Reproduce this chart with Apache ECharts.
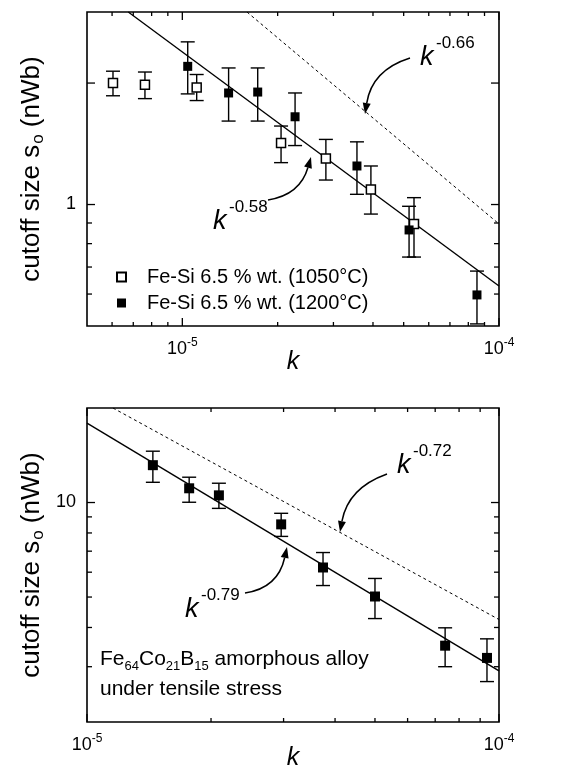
<!DOCTYPE html>
<html>
<head>
<meta charset="utf-8">
<script src="https://cdn.jsdelivr.net/npm/echarts@6/dist/echarts.min.js"></script>
<style>
  html, body { margin: 0; padding: 0; background: #fff; }
  #chart { width: 569px; height: 770px; }
</style>
</head>
<body>
<div id="chart"></div>
<script>
// top panel: Fe-Si 6.5 % wt., two annealing temperatures
const kOpen = [6.04e-6, 7.62e-6, 1.11e-5, 2.05e-5, 2.84e-5, 3.94e-5, 5.39e-5]
const sOpen = [2.00, 1.98, 1.95, 1.42, 1.30, 1.09, 0.895]
const loOpen = [1.86, 1.83, 1.81, 1.27, 1.15, 0.947, 0.741]
const hiOpen = [2.14, 2.13, 2.10, 1.565, 1.45, 1.246, 1.04]

const kFill = [1.04e-5, 1.40e-5, 1.73e-5, 2.27e-5, 3.56e-5, 5.20e-5, 8.52e-5]
const sFill = [2.20, 1.89, 1.90, 1.65, 1.246, 0.865, 0.597]
const loFill = [1.88, 1.61, 1.61, 1.40, 1.06, 0.741, 0.506]
const hiFill = [2.53, 2.18, 2.18, 1.89, 1.43, 0.99, 0.684]

// bottom panel: Fe64Co21B15 under tensile stress
const kAmo = [1.445e-5, 1.77e-5, 2.09e-5, 2.96e-5, 3.74e-5, 5.0e-5, 7.40e-5, 9.35e-5]
const sAmo = [13.15, 11.10, 10.54, 8.52, 6.21, 5.02, 3.50, 3.20]
const loAmo = [11.60, 10.02, 9.58, 7.80, 5.44, 4.27, 3.00, 2.69]
const hiAmo = [14.57, 12.04, 11.52, 9.24, 6.93, 5.73, 3.99, 3.68]

// power-law guide lines (end points)
const fitTopSolidK = [6.75e-6, 1e-4]
const fitTopSolidS = [3, 0.628]
const fitTopDashK = [1.6e-5, 1e-4]
const fitTopDashS = [3, 0.895]
const fitBotSolidK = [1e-5, 1e-4]
const fitBotSolidS = [17.9, 2.91]
const fitBotDashK = [1.156e-5, 1e-4]
const fitBotDashS = [20, 4.24]

// tick values
const xMajorTicks = [1e-5, 1e-4]
const xMinorTicksTop = [6e-6, 7e-6, 8e-6, 9e-6, 2e-5, 3e-5, 4e-5, 5e-5, 6e-5, 7e-5, 8e-5, 9e-5]
const xMinorTicksBot = [2e-5, 3e-5, 4e-5, 5e-5, 6e-5, 7e-5, 8e-5, 9e-5]
const yMajorTicksTop = [1, 2]
const yMinorTicksTop = [0.6, 0.7, 0.8, 0.9]
const yMajorTicksBot = [10]
const yMinorTicksBot = [3, 4, 5, 6, 7, 8, 9]

const legendNames = ['Fe-Si 6.5 % wt. (1050°C)', 'Fe-Si 6.5 % wt. (1200°C)']

const FONT = '"Liberation Sans", Arial, Helvetica, sans-serif'

let myChart = echarts.init(document.getElementById('chart'))

const zip2 = (a, b) => a.map((v, i) => [v, b[i]])
const zip3 = (a, b, c) => a.map((v, i) => [v, b[i], c[i]])

const isPow10 = (v) => Math.abs(Math.log10(v) - Math.round(Math.log10(v))) < 1e-6

const errorBarItem = (params, api) => {
    const x = api.value(0)
    const lo = api.coord([x, api.value(1)])
    const hi = api.coord([x, api.value(2)])
    const w = 7
    const st = {stroke: '#000', lineWidth: 1.4}
    return {
        type: 'group',
        children: [
            {type: 'line', shape: {x1: lo[0], y1: lo[1], x2: hi[0], y2: hi[1]}, style: st},
            {type: 'line', shape: {x1: lo[0] - w, y1: lo[1], x2: lo[0] + w, y2: lo[1]}, style: st},
            {type: 'line', shape: {x1: hi[0] - w, y1: hi[1], x2: hi[0] + w, y2: hi[1]}, style: st},
        ],
    }
}

// inward ticks on both opposite sides of the frame
const xTickItem = (params, api) => {
    const cs = params.coordSys
    const px = api.coord([api.value(0), api.value(1)])[0]
    const len = api.value(2) ? 8 : 4
    const st = {stroke: '#000', lineWidth: 1.3}
    const b = cs.y + cs.height
    return {
        type: 'group',
        children: [
            {type: 'line', shape: {x1: px, y1: b, x2: px, y2: b - len}, style: st},
            {type: 'line', shape: {x1: px, y1: cs.y, x2: px, y2: cs.y + len}, style: st},
        ],
    }
}
const yTickItem = (params, api) => {
    const cs = params.coordSys
    const py = api.coord([api.value(0), api.value(1)])[1]
    const len = api.value(2) ? 8 : 5
    const st = {stroke: '#000', lineWidth: 1.3}
    const r = cs.x + cs.width
    return {
        type: 'group',
        children: [
            {type: 'line', shape: {x1: cs.x, y1: py, x2: cs.x + len, y2: py}, style: st},
            {type: 'line', shape: {x1: r, y1: py, x2: r - len, y2: py}, style: st},
        ],
    }
}

const tickSeries = (gi, xMajor, xMinor, yMajor, yMinor, xRef, yRef) => [
    {
        type: 'custom', xAxisIndex: gi, yAxisIndex: gi, silent: true, renderItem: xTickItem,
        data: xMajor.map((v) => [v, yRef, 1]).concat(xMinor.map((v) => [v, yRef, 0])),
    },
    {
        type: 'custom', xAxisIndex: gi, yAxisIndex: gi, silent: true, renderItem: yTickItem,
        data: yMajor.map((v) => [xRef, v, 1]).concat(yMinor.map((v) => [xRef, v, 0])),
    },
]

const xAxisBase = (gi, min, max) => ({
    gridIndex: gi,
    type: 'log',
    logBase: 10,
    min: min,
    max: max,
    name: 'k',
    nameLocation: 'middle',
    nameGap: 24,
    nameMoveOverlap: false,
    nameTextStyle: {fontFamily: FONT, fontStyle: 'italic', fontSize: 25, color: '#000'},
    axisLine: {show: false},
    axisTick: {show: false},
    splitLine: {show: false},
    axisLabel: {
        margin: 12,
        formatter: (v) => {
            if (!isPow10(v)) return ''
            return '{b|10}{s|' + Math.round(Math.log10(v)) + '}'
        },
        rich: {
            b: {fontFamily: FONT, fontSize: 18, color: '#000', lineHeight: 22},
            s: {fontFamily: FONT, fontSize: 12, color: '#000', lineHeight: 22, padding: [0, 0, 12, 0]},
        },
    },
})

const yAxisBase = (gi, min, max) => ({
    gridIndex: gi,
    type: 'log',
    logBase: 10,
    min: min,
    max: max,
    name: '{a|cutoff size s}{o|o}{a| (nWb)}',
    nameLocation: 'middle',
    nameGap: 40,
    nameMoveOverlap: false,
    nameTextStyle: {
        rich: {
            a: {fontFamily: FONT, fontSize: 26, color: '#000', lineHeight: 30},
            o: {fontFamily: FONT, fontSize: 17, color: '#000', lineHeight: 30, padding: [12, 0, 0, 1]},
        },
    },
    axisLine: {show: false},
    axisTick: {show: false},
    splitLine: {show: false},
    axisLabel: {
        margin: 11,
        fontFamily: FONT,
        fontSize: 18,
        color: '#000',
        formatter: (v) => (isPow10(v) ? String(Math.round(v)) : ''),
    },
})

const arrow = (x1, y1, cx, cy, x2, y2) => {
    const ang = Math.atan2(y2 - cy, x2 - cx)
    const L = 11
    const W = 4
    const bx = x2 - L * Math.cos(ang)
    const by = y2 - L * Math.sin(ang)
    const nx = -Math.sin(ang)
    const ny = Math.cos(ang)
    return [
        {
            type: 'bezierCurve',
            shape: {x1: x1, y1: y1, cpx1: cx, cpy1: cy, x2: bx, y2: by},
            style: {stroke: '#000', lineWidth: 1.5, fill: null},
        },
        {
            type: 'polygon',
            shape: {points: [[x2, y2], [bx + nx * W, by + ny * W], [bx - nx * W, by - ny * W]]},
            style: {fill: '#000'},
        },
    ]
}

const powText = (kx, ky, expo) => [
    {
        type: 'text', x: kx, y: ky,
        style: {text: 'k', font: 'italic 27px ' + FONT, fill: '#000', textVerticalAlign: 'middle'},
    },
    {
        type: 'text', x: kx + 16, y: ky - 14,
        style: {text: expo, font: '17px ' + FONT, fill: '#000', textVerticalAlign: 'middle'},
    },
]

const gridBase = (top) => ({
    left: 87, top: top, width: 412, height: 314,
    containLabel: false, outerBoundsMode: 'none',
    show: true, borderColor: '#000', borderWidth: 1.6, backgroundColor: 'transparent',
})

let option = {
    backgroundColor: '#fff',
    animation: false,
    grid: [gridBase(12), gridBase(408)],
    xAxis: [xAxisBase(0, 5e-6, 1e-4), xAxisBase(1, 1e-5, 1e-4)],
    yAxis: [yAxisBase(0, 0.5, 3), yAxisBase(1, 2, 20)],
    legend: {
        data: legendNames,
        orient: 'vertical',
        left: 116,
        top: 267,
        padding: 0,
        itemGap: 6,
        itemWidth: 9,
        itemHeight: 9,
        selectedMode: false,
        textStyle: {fontFamily: FONT, fontSize: 20, color: '#000', lineHeight: 20, padding: [0, 0, 0, 16]},
    },
    series: [
        ...tickSeries(0, xMajorTicks, xMinorTicksTop, yMajorTicksTop, yMinorTicksTop, 1e-5, 1),
        ...tickSeries(1, xMajorTicks, xMinorTicksBot, yMajorTicksBot, yMinorTicksBot, 2e-5, 10),
        {
            type: 'line', xAxisIndex: 0, yAxisIndex: 0, silent: true, showSymbol: false,
            data: zip2(fitTopSolidK, fitTopSolidS), lineStyle: {color: '#000', width: 1.4},
        },
        {
            type: 'line', xAxisIndex: 0, yAxisIndex: 0, silent: true, showSymbol: false,
            data: zip2(fitTopDashK, fitTopDashS), lineStyle: {color: '#000', width: 1, type: [3, 3]},
        },
        {
            type: 'custom', xAxisIndex: 0, yAxisIndex: 0, silent: true, renderItem: errorBarItem,
            data: zip3(kOpen, loOpen, hiOpen), z: 3,
        },
        {
            type: 'custom', xAxisIndex: 0, yAxisIndex: 0, silent: true, renderItem: errorBarItem,
            data: zip3(kFill, loFill, hiFill), z: 3,
        },
        {
            name: legendNames[0], type: 'scatter', xAxisIndex: 0, yAxisIndex: 0, symbol: 'rect', symbolSize: 9, z: 4,
            data: zip2(kOpen, sOpen), itemStyle: {color: '#fff', borderColor: '#000', borderWidth: 1.5, opacity: 1},
        },
        {
            name: legendNames[1], type: 'scatter', xAxisIndex: 0, yAxisIndex: 0, symbol: 'rect', symbolSize: 9, z: 4,
            data: zip2(kFill, sFill), itemStyle: {color: '#000', borderColor: '#000', borderWidth: 0, opacity: 1},
        },
        {
            type: 'line', xAxisIndex: 1, yAxisIndex: 1, silent: true, showSymbol: false,
            data: zip2(fitBotSolidK, fitBotSolidS), lineStyle: {color: '#000', width: 1.4},
        },
        {
            type: 'line', xAxisIndex: 1, yAxisIndex: 1, silent: true, showSymbol: false,
            data: zip2(fitBotDashK, fitBotDashS), lineStyle: {color: '#000', width: 1, type: [3, 3]},
        },
        {
            type: 'custom', xAxisIndex: 1, yAxisIndex: 1, silent: true, renderItem: errorBarItem,
            data: zip3(kAmo, loAmo, hiAmo), z: 3,
        },
        {
            name: 'Fe64Co21B15', type: 'scatter', xAxisIndex: 1, yAxisIndex: 1, symbol: 'rect', symbolSize: 10, z: 4,
            data: zip2(kAmo, sAmo), itemStyle: {color: '#000', opacity: 1},
        },
    ],
    graphic: [
        ...powText(420, 57, '-0.66'),
        ...arrow(410, 58, 372, 70, 365, 114),
        ...powText(213, 221, '-0.58'),
        ...arrow(268, 200, 300, 195, 311, 157),
        ...powText(397, 465, '-0.72'),
        ...arrow(387, 474, 348, 488, 340, 532),
        ...powText(185, 609, '-0.79'),
        ...arrow(245, 593, 278, 588, 287, 547),
        {
            type: 'text', x: 100, y: 644,
            style: {
                text: '{n|Fe}{s|64}{n|Co}{s|21}{n|B}{s|15}{n| amorphous alloy}\n{n|under tensile stress}',
                rich: {
                    n: {fontFamily: FONT, fontSize: 21, fill: '#000', lineHeight: 30},
                    s: {fontFamily: FONT, fontSize: 13, fill: '#000', lineHeight: 30, padding: [14, 0, 0, 0]},
                },
            },
        },
    ],
}

myChart.setOption(option)
</script>
</body>
</html>
